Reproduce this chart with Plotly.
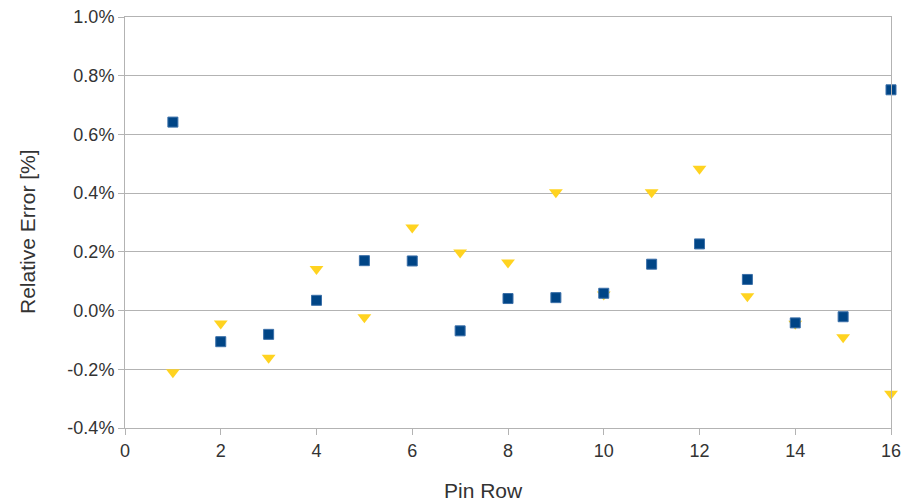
import plotly.graph_objects as go

# Pin rows along the x axis
pin_rows = list(range(1, 17))

# Relative error per pin row, in percent
series_a = [0.642, -0.106, -0.081, 0.035, 0.170, 0.169, -0.069, 0.041,
            0.044, 0.059, 0.158, 0.227, 0.106, -0.042, -0.021, 0.752]
series_b = [-0.210, -0.044, -0.161, 0.142, -0.023, 0.283, 0.198, 0.164,
            0.403, 0.055, 0.403, 0.483, 0.049, -0.045, -0.091, -0.283]

y_ticks = [-0.4, -0.2, 0.0, 0.2, 0.4, 0.6, 0.8, 1.0]
y_tick_labels = [f"{v:.1f}%" for v in y_ticks]
x_ticks = list(range(0, 17, 2))

BLUE = "#004586"
YELLOW = "#ffd320"
GRID = "#b3b3b3"
TEXT = "#333333"
FONT = "Liberation Sans, Arial, sans-serif"

fig = go.Figure()

fig.add_trace(go.Scatter(
    x=pin_rows, y=series_b, mode="markers", name="B", cliponaxis=False,
    marker=dict(symbol="triangle-down", size=12, color=YELLOW,
                line=dict(width=0)),
))
fig.add_trace(go.Scatter(
    x=pin_rows, y=series_a, mode="markers", name="A", cliponaxis=False,
    marker=dict(symbol="square", size=10, color=BLUE,
                line=dict(width=1, color="#3a6fa8")),
))

fig.update_layout(
    width=908, height=501,
    margin=dict(l=125, r=17, t=17, b=73),
    paper_bgcolor="white", plot_bgcolor="white",
    showlegend=False,
    font=dict(family=FONT, color=TEXT, size=18),
    annotations=[
        dict(text="Pin Row", xref="paper", yref="paper",
             x=(483 - 125) / 766, y=(428 - 490.5) / 411,
             xanchor="center", yanchor="middle", showarrow=False,
             font=dict(size=21, color=TEXT)),
        dict(text="Relative Error [%]", xref="paper", yref="paper",
             x=(27 - 125) / 766, y=(428 - 232) / 411, textangle=-90,
             xanchor="center", yanchor="middle", showarrow=False,
             font=dict(size=21, color=TEXT)),
    ],
)

fig.update_xaxes(
    range=[0, 16], tickvals=x_ticks, automargin=False,
    showgrid=False, zeroline=False,
    showline=True, linecolor=GRID, linewidth=1, mirror=True,
    ticks="outside", ticklen=6, tickcolor=GRID,
    tickfont=dict(size=18, color=TEXT),
)
fig.update_yaxes(
    range=[-0.4, 1.0], tickvals=y_ticks, ticktext=y_tick_labels,
    automargin=False,
    showgrid=True, gridcolor=GRID, gridwidth=1, zeroline=False,
    showline=True, linecolor=GRID, linewidth=1, mirror=True,
    ticks="outside", ticklen=6, tickcolor=GRID,
    tickfont=dict(size=18, color=TEXT),
)

fig.write_html("out.html")
